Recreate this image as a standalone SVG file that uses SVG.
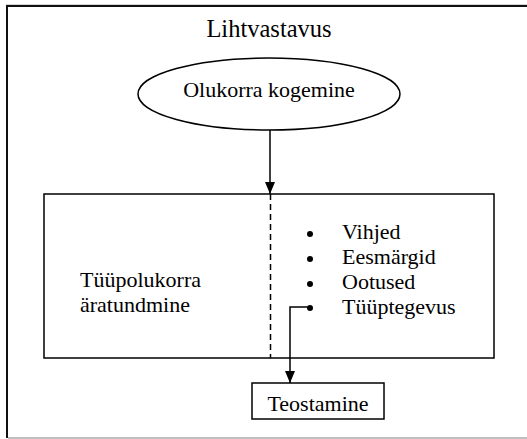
<svg xmlns="http://www.w3.org/2000/svg" width="527" height="439" viewBox="0 0 527 439">
<style>
text{font-family:'Liberation Serif','Times New Roman','DejaVu Serif',serif;font-size:22px;fill:#000}
.shape{fill:#fff;stroke:#000;stroke-width:1.5}
.conn{fill:none;stroke:#000;stroke-width:1.5}
</style>
<defs>
<marker id="arr" markerWidth="12" markerHeight="10" refX="12" refY="5" orient="auto" markerUnits="userSpaceOnUse" viewBox="0 0 12 10">
<path d="M0,0 L12,5 L0,10 Z" fill="#000"/>
</marker>
</defs>
<rect width="527" height="439" fill="#fff"/>
<g id="frame">
<line x1="6" y1="5" x2="527" y2="5" stroke="#aaa" stroke-width="1"/>
<line x1="6" y1="6" x2="527" y2="6" stroke="#111" stroke-width="2"/>
<line x1="7" y1="5" x2="7" y2="438" stroke="#111" stroke-width="2"/>
<line x1="8" y1="438" x2="527" y2="438" stroke="#aaa" stroke-width="1.5"/>
<text x="269" y="37" text-anchor="middle" font-family="Liberation Serif, serif" style="font-size:24.5px">Lihtvastavus</text>
</g>
<g id="olukorra">
<ellipse class="shape" cx="269" cy="94" rx="131" ry="36"/>
<text x="269" y="97" text-anchor="middle" font-family="Liberation Serif, serif">Olukorra kogemine</text>
</g>
<g id="tyypolukorra">
<rect class="shape" x="44" y="194" width="450" height="164"/>
<line x1="270.5" y1="194" x2="270.5" y2="358" stroke="#000" stroke-width="1.5" stroke-dasharray="6,4"/>
<text x="80" y="287" font-family="Liberation Serif, serif">Tüüpolukorra</text>
<text x="80" y="312" font-family="Liberation Serif, serif">äratundmine</text>
<g fill="#000">
<circle cx="310" cy="234" r="3"/>
<circle cx="310" cy="259" r="3"/>
<circle cx="310" cy="284" r="3"/>
<circle cx="310" cy="308" r="3"/>
</g>
<text x="342" y="239" font-family="Liberation Serif, serif">Vihjed</text>
<text x="342" y="264" font-family="Liberation Serif, serif">Eesmärgid</text>
<text x="342" y="289" font-family="Liberation Serif, serif">Ootused</text>
<text x="342" y="314" font-family="Liberation Serif, serif">Tüüptegevus</text>
</g>
<g id="teostamine">
<rect class="shape" x="252" y="383" width="132" height="36"/>
<text x="318" y="411" text-anchor="middle" font-family="Liberation Serif, serif">Teostamine</text>
</g>
<g id="connectors">
<line class="conn" x1="270" y1="130" x2="270" y2="194" marker-end="url(#arr)"/>
<polyline class="conn" points="310,307 290,307 290,383" marker-end="url(#arr)"/>
</g>
</svg>
